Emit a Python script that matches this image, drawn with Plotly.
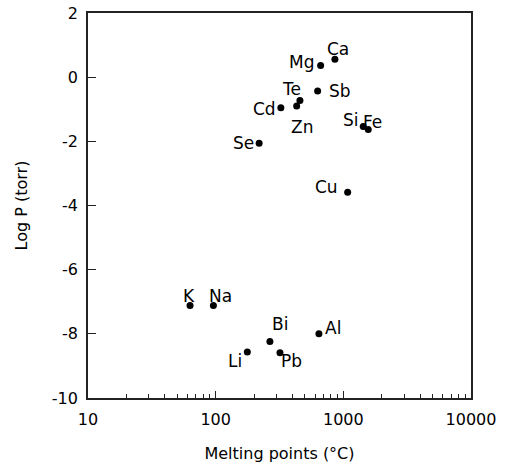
import math
import plotly.graph_objects as go

# Data
elements = ["K", "Na", "Li", "Bi", "Pb", "Al", "Se", "Cd", "Zn", "Te", "Sb", "Mg", "Ca", "Si", "Fe", "Cu"]
melting_c = [63, 96, 177, 266, 319, 644, 219, 324, 431, 457, 629, 664, 859, 1432, 1567, 1081]
log_p = [-7.12, -7.12, -8.57, -8.24, -8.59, -8.0, -2.06, -0.95, -0.90, -0.73, -0.43, 0.36, 0.56, -1.54, -1.63, -3.59]

x_major = [10, 100, 1000, 10000]
x_major_text = ["10", "100", "1000", "10000"]
y_ticks = [2, 0, -2, -4, -6, -8, -10]
y_tick_text = ["2", "0", "-2", "-4", "-6", "-8", "-10"]

# label offsets in pixels (dx, dy up)
label_offsets = {
    "K": (-1, 10), "Na": (7, 10), "Li": (-12, -9), "Bi": (10, 18), "Pb": (12, -8),
    "Al": (14, 6), "Se": (-16, 0), "Cd": (-16, -1), "Zn": (5, -21), "Te": (-8, 12),
    "Sb": (22, 0), "Mg": (-19, 4), "Ca": (3, 10), "Si": (-12, 7), "Fe": (4, 7), "Cu": (-21, 5),
}

FONT = "DejaVu Sans"

fig = go.Figure()
fig.add_trace(go.Scatter(
    x=melting_c, y=log_p, mode="markers",
    marker=dict(color="black", size=7),
    showlegend=False, hoverinfo="skip",
))

for el, xv, yv in zip(elements, melting_c, log_p):
    dx, dy = label_offsets[el]
    fig.add_annotation(
        x=math.log10(xv), y=yv, xref="x", yref="y", text=el, showarrow=False,
        xshift=dx, yshift=dy, xanchor="center", yanchor="middle",
        font=dict(family=FONT, size=17, color="black"),
    )

minor_vals = [m * d for d in (10, 100, 1000) for m in range(2, 10)]

fig.update_xaxes(
    type="log", range=[1, 4],
    tickmode="array", tickvals=x_major, ticktext=x_major_text,
    ticks="inside", ticklen=7, tickwidth=1.2, tickcolor="#222",
    minor=dict(tickmode="array", tickvals=minor_vals, ticks="inside", ticklen=4,
               tickwidth=1, tickcolor="#222", showgrid=False),
    showline=True, linecolor="#222", linewidth=1.5, mirror=True,
    showgrid=False, zeroline=False,
    tickfont=dict(family=FONT, size=16, color="black"),
    ticklabelstandoff=6,
    title=dict(text="Melting points (°C)", font=dict(family=FONT, size=16, color="black"), standoff=20),
)
fig.update_yaxes(
    range=[-10, 2], tickmode="array", tickvals=y_ticks, ticktext=y_tick_text,
    ticks="inside", ticklen=8, tickwidth=1.2, tickcolor="#222",
    showline=True, linecolor="#222", linewidth=1.8, mirror=True,
    showgrid=False, zeroline=False,
    tickfont=dict(family=FONT, size=16, color="black"),
    ticklabelstandoff=5,
    title=dict(text="Log P (torr)", font=dict(family=FONT, size=16, color="black"), standoff=20),
)

fig.update_layout(
    width=509, height=466,
    margin=dict(l=88, r=38, t=13, b=68, autoexpand=False),
    paper_bgcolor="white", plot_bgcolor="white",
    font=dict(family=FONT, color="black"),
)

fig.write_html("out.html")
